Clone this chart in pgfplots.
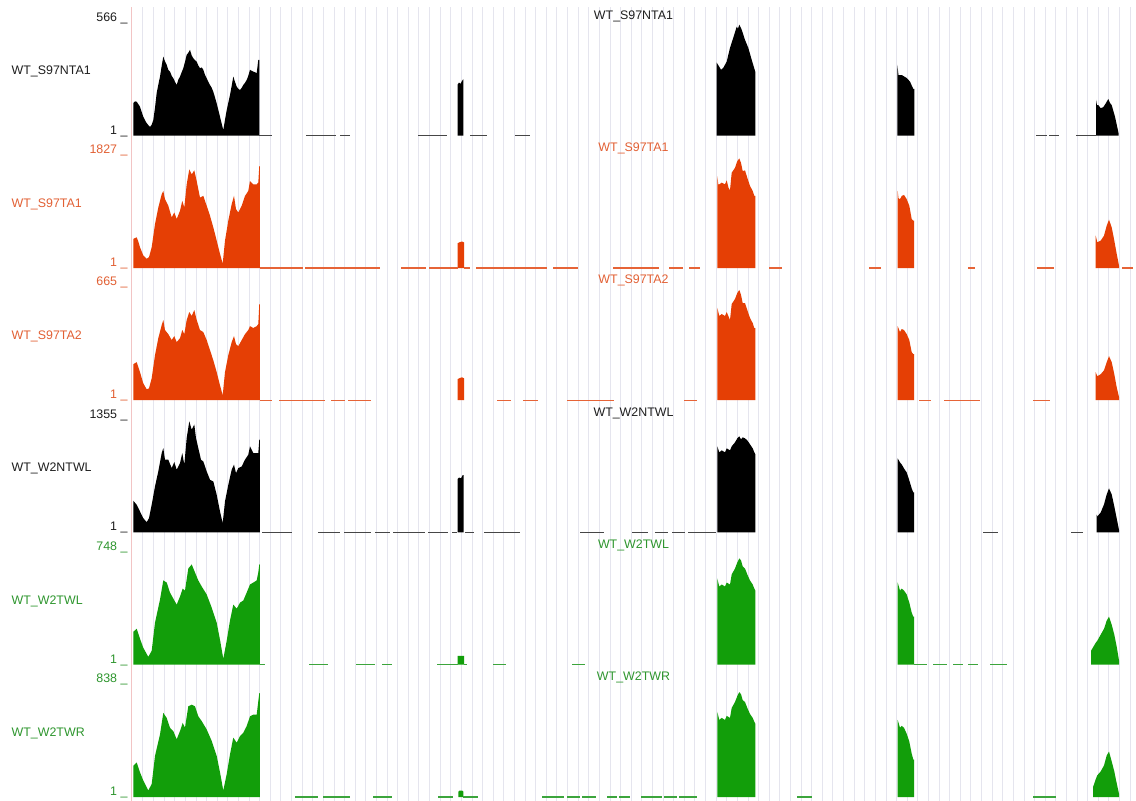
\documentclass[border=0pt]{standalone}
\usepackage{pgfplots}
\pgfplotsset{compat=1.18}
\usepackage{fontspec}
\setmainfont{Liberation Sans}
\definecolor{trkorange}{RGB}{229,63,5}
\definecolor{trkgreen}{RGB}{18,158,10}
\definecolor{lblorange}{RGB}{226,96,52}
\definecolor{lblgreen}{RGB}{46,150,46}
\definecolor{lblblack}{RGB}{30,30,30}
\definecolor{gridc}{RGB}{229,229,238}
\definecolor{leftc}{RGB}{242,196,196}
\definecolor{segblack}{RGB}{70,70,70}
\definecolor{segorange}{RGB}{230,100,55}
\definecolor{seggreen}{RGB}{60,165,60}
\newcommand{\lblfont}{\fontsize{12.4}{14}\selectfont}
\pgfplotsset{
  track/.style={
    scale only axis, width=1005pt, height=112.8pt,
    xmin=131, xmax=1136, ymin=1,
    anchor=south west,
    axis line style={draw=none},
    xtick=\empty,
    major tick length=0pt,
    clip=false,
    unbounded coords=jump,
    yticklabel style={anchor=base east, yshift=1.5pt, font=\lblfont},
  },
  seg/.style={line width=1.1pt, draw=#1},
}
\newcommand{\trackname}[2]{\node[anchor=west, inner sep=0pt, font=\lblfont, text=#1, xshift=-119.5pt] at (rel axis cs:0,0.565) {#2};
  \node[anchor=base, inner sep=0pt, font=\lblfont, text=#1, yshift=3.5pt] at (rel axis cs:0.5,1) {#2};}
\begin{document}
\begin{tikzpicture}
\path[use as bounding box, fill=white] (0,0) rectangle (1136pt,-801pt);
% background grid
\begin{axis}[scale only axis, width=1005pt, height=794pt, at={(131pt,-801pt)}, anchor=south west,
  xmin=131, xmax=1136, ymin=0, ymax=1,
  xtick={142.9,153.515,...,1131}, xticklabels={}, ytick=\empty,
  xmajorgrids, major grid style={gridc, line width=0.9pt},
  axis line style={draw=none}, major tick length=0pt]
\addplot[draw=none] coordinates {(131,0) (1136,1)};
\draw[leftc, line width=1pt] (rel axis cs:0,0) -- (rel axis cs:0,1);
\end{axis}

% Track 1
\begin{axis}[track, at={(131pt,-135.5pt)}, ymax=566, ytick={1,566}, yticklabels={1 \_,566 \_},
  yticklabel style={text=lblblack}]
\addplot[fill=black, draw=none] coordinates {(133.3,1) (133.3,164) (135,172) (136.7,170) (138.3,158) (140,145) (143.3,95) (146,68) (148.3,53) (150,44) (151.7,55) (153.3,78) (155,140) (156.7,214) (158.3,255) (160,296) (161.7,350) (163.3,396) (165,372) (166.7,355) (168.3,330) (170,321) (171.7,300) (173.3,288) (175,270) (176.7,254) (178.3,280) (180,296) (181.7,318) (183.3,338) (185,370) (186.7,405) (188.3,415) (190,430) (191.7,402) (193.3,388) (195,378) (196.7,371) (198.3,352) (200,338) (201.7,342) (203.3,330) (205,305) (206.7,288) (208.3,270) (210,254) (211.7,240) (213.3,220) (215,192) (216.7,162) (218.3,130) (220,95) (221.7,60) (223.3,28) (225,80) (226.7,128) (228.3,165) (230,204) (231.7,250) (233.3,296) (235,270) (236.7,246) (238.3,235) (240,229) (241.7,240) (243.3,254) (245,265) (246.7,279) (248.3,300) (250,330) (251.7,325) (253.3,321) (255,318) (256.7,313) (258.3,380) (259.3,380) (259.3,1)} \closedcycle;
\addplot[fill=black, draw=none] coordinates {(457.5,1) (457.5,255) (459,266) (460.5,260) (462,275) (463.3,282) (463.3,1)} \closedcycle;
\addplot[fill=black, draw=none] coordinates {(716.7,1) (716.7,366) (719.3,345) (721,330) (723.3,340) (726.7,371) (730,440) (733.3,491) (736.7,546) (738,536) (739.3,556) (741.7,531) (745,480) (748.3,440) (751.7,380) (755.3,320) (755.3,1)} \closedcycle;
\addplot[fill=black, draw=none] coordinates {(897.3,1) (897.3,355) (898.5,304) (901.7,304) (906.7,289) (910,271) (913.3,234) (914.3,234) (914.3,1)} \closedcycle;
\addplot[fill=black, draw=none] coordinates {(1096,1) (1096,179) (1097,153) (1098.3,153) (1100.7,138) (1103.3,143) (1106,164) (1108.3,184) (1110,164) (1111.7,153) (1115,95) (1118.7,10) (1118.7,1)} \closedcycle;
\addplot[seg=segblack] coordinates {(259.3,1) (272,1) (290,nan) (306,1) (336,1) (338,nan) (340,1) (350,1) (400,nan) (418,1) (447,1) (460,nan) (470,1) (487,1) (500,nan) (515,1) (530,1) (800,nan) (1036,1) (1047,1) (1048,nan) (1049,1) (1059,1) (1070,nan) (1076,1) (1096,1)};
\trackname{lblblack}{WT\_S97NTA1}
\end{axis}

% Track 2
\begin{axis}[track, at={(131pt,-268pt)}, ymax=1827, ytick={1,1827}, yticklabels={1 \_,1827 \_},
  yticklabel style={text=lblorange}]
\addplot[fill=trkorange, draw=none] coordinates {(133.3,1) (133.3,472) (136.7,498) (138.3,430) (140,337) (143.3,204) (146.7,151) (149,177) (151.7,337) (155,713) (158.3,980) (161.7,1195) (163.3,1249) (165,1115) (168.3,1008) (171.7,820) (174.3,900) (176.7,794) (180,927) (182.3,1088) (184.3,980) (186.7,1356) (189.3,1597) (191.7,1517) (194.3,1581) (196.7,1409) (200,1141) (203.3,1168) (206.7,1008) (210,847) (213.3,659) (216.7,445) (220,231) (222.7,71) (225,445) (228.3,767) (231.7,1035) (234,1168) (236,955) (238.3,900) (241.7,1008) (245,1168) (248.3,1249) (250,1409) (253.3,1356) (256.7,1356) (258.3,1382) (259.3,1650) (259.8,1650) (259.8,1)} \closedcycle;
\addplot[fill=trkorange, draw=none] coordinates {(457.5,1) (457.5,400) (460,420) (462,430) (464,415) (464,1)} \closedcycle;
\addplot[fill=trkorange, draw=none] coordinates {(717.3,1) (717.3,1490) (718.3,1356) (719.3,1356) (721.7,1382) (725,1356) (726.7,1420) (728.5,1300) (730,1260) (731.7,1543) (735,1623) (737.3,1731) (739.3,1774) (741,1703) (742.7,1570) (745,1581) (747.3,1462) (750,1329) (752.7,1249) (754.3,1168) (755.3,1168) (755.3,1)} \closedcycle;
\addplot[fill=trkorange, draw=none] coordinates {(897.7,1) (897.7,1249) (898.5,1130) (900,1115) (901.7,1168) (904,1184) (906.7,1115) (909.3,1008) (911.7,794) (913.3,767) (914,767) (914,1)} \closedcycle;
\addplot[fill=trkorange, draw=none] coordinates {(1095.7,1) (1095.7,525) (1097.3,418) (1100.7,445) (1104,525) (1106.7,686) (1109,783) (1111.7,659) (1114.3,445) (1116.7,231) (1119,40) (1119,1)} \closedcycle;
\addplot[seg=segorange] coordinates {(259.8,1) (303,1) (304,nan) (305,1) (380,1) (390,nan) (401,1) (426,1) (427,nan) (429,1) (457.5,1) (460,nan) (464,1) (470,1) (472,nan) (476,1) (547,1) (550,nan) (553,1) (578,1) (590,nan) (613,1) (659,1) (665,nan) (669,1) (683,1) (685,nan) (689,1) (700,1) (730,nan) (769,1) (782,1) (800,nan) (869,1) (881,1) (900,nan) (968,1) (975,1) (1000,nan) (1037,1) (1054,1) (1100,nan) (1122,1) (1133,1)};
\trackname{lblorange}{WT\_S97TA1}
\end{axis}

% Track 3
\begin{axis}[track, at={(131pt,-400.2pt)}, ymax=665, ytick={1,665}, yticklabels={1 \_,665 \_},
  yticklabel style={text=lblorange}]
\addplot[fill=trkorange, draw=none] coordinates {(133.3,1) (133.3,213) (136.7,225) (140,166) (143.3,100) (146.7,65) (149,71) (151.7,130) (155,266) (158.3,366) (161.7,443) (163.3,473) (165,414) (168.3,390) (171.7,355) (174.3,378) (176.7,343) (180,366) (182.3,414) (184.3,390) (186.7,473) (189.3,520) (191.7,497) (194.3,532) (196.7,473) (200,414) (203.3,402) (206.7,355) (210,296) (213.3,236) (216.7,166) (220,89) (222.7,30) (225,166) (228.3,266) (231.7,343) (234,378) (236,331) (238.3,319) (241.7,355) (245,390) (248.3,414) (250,437) (253.3,426) (256.7,437) (258.3,449) (259.3,567) (259.8,567) (259.8,1)} \closedcycle;
\addplot[fill=trkorange, draw=none] coordinates {(457.5,1) (457.5,125) (460,132) (462,136) (464,130) (464,1)} \closedcycle;
\addplot[fill=trkorange, draw=none] coordinates {(717.3,1) (717.3,544) (719.3,497) (721.7,508) (725,497) (726.7,520) (730,473) (731.7,567) (735,597) (737.3,632) (739.3,650) (741,621) (742.7,573) (745,573) (747.3,532) (750,485) (752.7,455) (754.3,426) (755.3,426) (755.3,1)} \closedcycle;
\addplot[fill=trkorange, draw=none] coordinates {(897.7,1) (897.7,437) (900,402) (901.7,420) (904,414) (906.7,390) (909.3,355) (911.7,284) (913.3,272) (914,272) (914,1)} \closedcycle;
\addplot[fill=trkorange, draw=none] coordinates {(1095.7,1) (1095.7,166) (1097.3,142) (1100.7,154) (1104,177) (1106.7,225) (1109,260) (1111.7,225) (1114.3,154) (1116.7,77) (1119,20) (1119,1)} \closedcycle;
\addplot[seg=segorange] coordinates {(259.8,1) (272,1) (275,nan) (279,1) (325,1) (328,nan) (331,1) (345,1) (346,nan) (348,1) (371,1) (400,nan) (497,1) (511,1) (515,nan) (523,1) (538,1) (550,nan) (567,1) (614,1) (650,nan) (684,1) (697,1) (800,nan) (919,1) (931,1) (935,nan) (944,1) (980,1) (1000,nan) (1033,1) (1050,1)};
\trackname{lblorange}{WT\_S97TA2}
\end{axis}

% Track 4
\begin{axis}[track, at={(131pt,-532.4pt)}, ymax=1355, ytick={1,1355}, yticklabels={1 \_,1355 \_},
  yticklabel style={text=lblblack}]
\addplot[fill=black, draw=none] coordinates {(133.3,1) (133.3,381) (136.7,333) (140,252) (143.3,172) (146.7,124) (149,172) (151.7,333) (155,553) (158.3,733) (161.7,953) (163.3,1013) (165,874) (168.3,874) (171.7,773) (174.3,845) (176.7,754) (180,833) (182.3,953) (184.3,814) (186.7,1134) (189.3,1334) (191.7,1234) (194.3,1295) (196,1134) (198.3,1013) (201,874) (203.3,853) (206.7,733) (210,633) (213.3,613) (216.7,453) (220,252) (222.7,112) (225,373) (228.3,573) (231.7,754) (234,814) (236,713) (238.3,773) (241.7,793) (245,874) (248.3,934) (250,1034) (253.3,953) (256.7,953) (258.3,953) (259.3,1114) (259.8,1114) (259.8,1)} \closedcycle;
\addplot[fill=black, draw=none] coordinates {(457.5,1) (457.5,640) (459,660) (461,650) (462.5,685) (463.5,690) (463.5,1)} \closedcycle;
\addplot[fill=black, draw=none] coordinates {(717.3,1) (717.3,1034) (719.3,962) (721.7,986) (725,962) (726.7,1010) (730,986) (731.7,1034) (735,1082) (737.3,1130) (739.3,1154) (741,1118) (742.7,1142) (745,1130) (747.3,1106) (750,1058) (752.7,1010) (754.3,962) (755.3,938) (755.3,1)} \closedcycle;
\addplot[fill=black, draw=none] coordinates {(897.7,1) (897.7,889) (900,841) (901.7,817) (904,769) (906.7,721) (909.3,625) (911.7,529) (913.3,481) (914,481) (914,1)} \closedcycle;
\addplot[fill=black, draw=none] coordinates {(1096.5,1) (1096.5,216) (1097.3,192) (1100.7,240) (1104,337) (1106.7,457) (1109,529) (1111.7,457) (1114.3,313) (1116.7,168) (1119,30) (1119,1)} \closedcycle;
\addplot[seg=segblack] coordinates {(262,1) (292,1) (300,nan) (318,1) (340,1) (342,nan) (344,1) (371,1) (373,nan) (375,1) (390,1) (391,nan) (393,1) (425,1) (426,nan) (428,1) (448,1) (450,nan) (452,1) (457,1) (460,nan) (465,1) (474,1) (480,nan) (484,1) (520,1) (550,nan) (580,1) (604,1) (620,nan) (632,1) (648,1) (650,nan) (655,1) (668,1) (670,nan) (672,1) (685,1) (686,nan) (688,1) (716,1) (800,nan) (983,1) (998,1) (1050,nan) (1071,1) (1083,1)};
\trackname{lblblack}{WT\_W2NTWL}
\end{axis}

% Track 5
\begin{axis}[track, at={(131pt,-664.7pt)}, ymax=748, ytick={1,748}, yticklabels={1 \_,748 \_},
  yticklabel style={text=lblgreen}]
\addplot[fill=trkgreen, draw=none] coordinates {(133.3,1) (133.3,219) (136.7,239) (140,173) (143.3,113) (148.3,53) (151.7,93) (155,279) (160,432) (163.3,559) (166.7,545) (170,479) (173.3,439) (176.7,399) (180,452) (182.7,505) (185,492) (188.3,638) (191.7,665) (195,612) (198.3,559) (201.7,519) (206.7,466) (211.7,379) (216.7,279) (220,166) (223.3,40) (226.7,160) (230,293) (233.3,399) (236.7,372) (240,412) (243.3,426) (246.7,479) (250,532) (253.3,545) (256.7,559) (258.3,612) (259.3,665) (259.8,665) (259.8,1)} \closedcycle;
\addplot[fill=trkgreen, draw=none] coordinates {(457.5,1) (457.5,60) (464,60) (464,1)} \closedcycle;
\addplot[fill=trkgreen, draw=none] coordinates {(717.3,1) (717.3,572) (719.3,519) (721.7,532) (725,519) (726.7,545) (730,532) (731.7,599) (735,638) (737.3,678) (739.3,705) (741,692) (742.7,652) (745,638) (747.3,599) (750,559) (752.7,532) (754.3,505) (755.3,492) (755.3,1)} \closedcycle;
\addplot[fill=trkgreen, draw=none] coordinates {(897.7,1) (897.7,545) (900,492) (901.7,505) (904,492) (906.7,466) (909.3,412) (911.7,346) (913.3,319) (914,319) (914,1)} \closedcycle;
\addplot[fill=trkgreen, draw=none] coordinates {(1091,1) (1091,93) (1095.7,146) (1097.3,160) (1100.7,200) (1104,239) (1106.7,293) (1109,319) (1111.7,266) (1114.3,200) (1116.7,120) (1119,30) (1119,1)} \closedcycle;
\addplot[seg=seggreen] coordinates {(259.8,1) (265,1) (290,nan) (309,1) (328,1) (340,nan) (356,1) (375,1) (378,nan) (382,1) (392,1) (420,nan) (437,1) (457.5,1) (460,nan) (464,1) (467,1) (480,nan) (493,1) (506,1) (540,nan) (572,1) (585,1) (800,nan) (914,1) (927,1) (930,nan) (933,1) (947,1) (950,nan) (953,1) (963,1) (965,nan) (968,1) (978,1) (985,nan) (990,1) (1007,1)};
\trackname{lblgreen}{WT\_W2TWL}
\end{axis}

% Track 6
\begin{axis}[track, at={(131pt,-797pt)}, ymax=838, ytick={1,838}, yticklabels={1 \_,838 \_},
  yticklabel style={text=lblgreen}]
\addplot[fill=trkgreen, draw=none] coordinates {(133.3,1) (133.3,233) (136.7,257) (140,184) (143.3,123) (148.3,49) (151.7,98) (155,306) (160,465) (163.3,625) (166.7,588) (170,515) (173.3,490) (176.7,429) (180,490) (182.7,551) (185,515) (188.3,674) (191.7,686) (195,674) (198.3,600) (201.7,564) (206.7,502) (211.7,417) (216.7,306) (220,184) (223.3,49) (226.7,171) (230,318) (233.3,441) (236.7,404) (240,453) (243.3,478) (246.7,527) (250,600) (253.3,612) (256.7,612) (258.3,711) (259.3,772) (259.8,772) (259.8,1)} \closedcycle;
\addplot[fill=trkgreen, draw=none] coordinates {(458.3,1) (458.3,40) (459.5,49) (462,49) (463.3,42) (463.3,1)} \closedcycle;
\addplot[fill=trkgreen, draw=none] coordinates {(717.3,1) (717.3,632) (719.3,573) (721.7,588) (725,573) (726.7,603) (730,588) (731.7,662) (735,706) (737.3,750) (739.3,779) (741,764) (742.7,720) (745,706) (747.3,662) (750,617) (752.7,588) (754.3,559) (755.3,544) (755.3,1)} \closedcycle;
\addplot[fill=trkgreen, draw=none] coordinates {(897.7,1) (897.7,573) (900,515) (901.7,529) (904,515) (906.7,470) (909.3,412) (911.7,323) (913.3,279) (914,279) (914,1)} \closedcycle;
\addplot[fill=trkgreen, draw=none] coordinates {(1093,1) (1093,74) (1095.7,132) (1097.3,162) (1100.7,191) (1104,235) (1106.7,309) (1109,338) (1111.7,265) (1114.3,191) (1116.7,103) (1119,25) (1119,1)} \closedcycle;
\addplot[seg=seggreen] coordinates {(295,1) (318,1) (320,nan) (323,1) (350,1) (360,nan) (373,1) (392,1) (420,nan) (438,1) (453,1) (458,nan) (463,1) (478,1) (500,nan) (542,1) (564,1) (565,nan) (567,1) (580,1) (581,nan) (582,1) (596,1) (600,nan) (607,1) (617,1) (618,nan) (619,1) (630,1) (635,nan) (641,1) (662,1) (663,nan) (664,1) (677,1) (678,nan) (679,1) (697,1) (750,nan) (797,1) (812,1) (900,nan) (1033,1) (1056,1)};
\trackname{lblgreen}{WT\_W2TWR}
\end{axis}
\end{tikzpicture}
\end{document}
